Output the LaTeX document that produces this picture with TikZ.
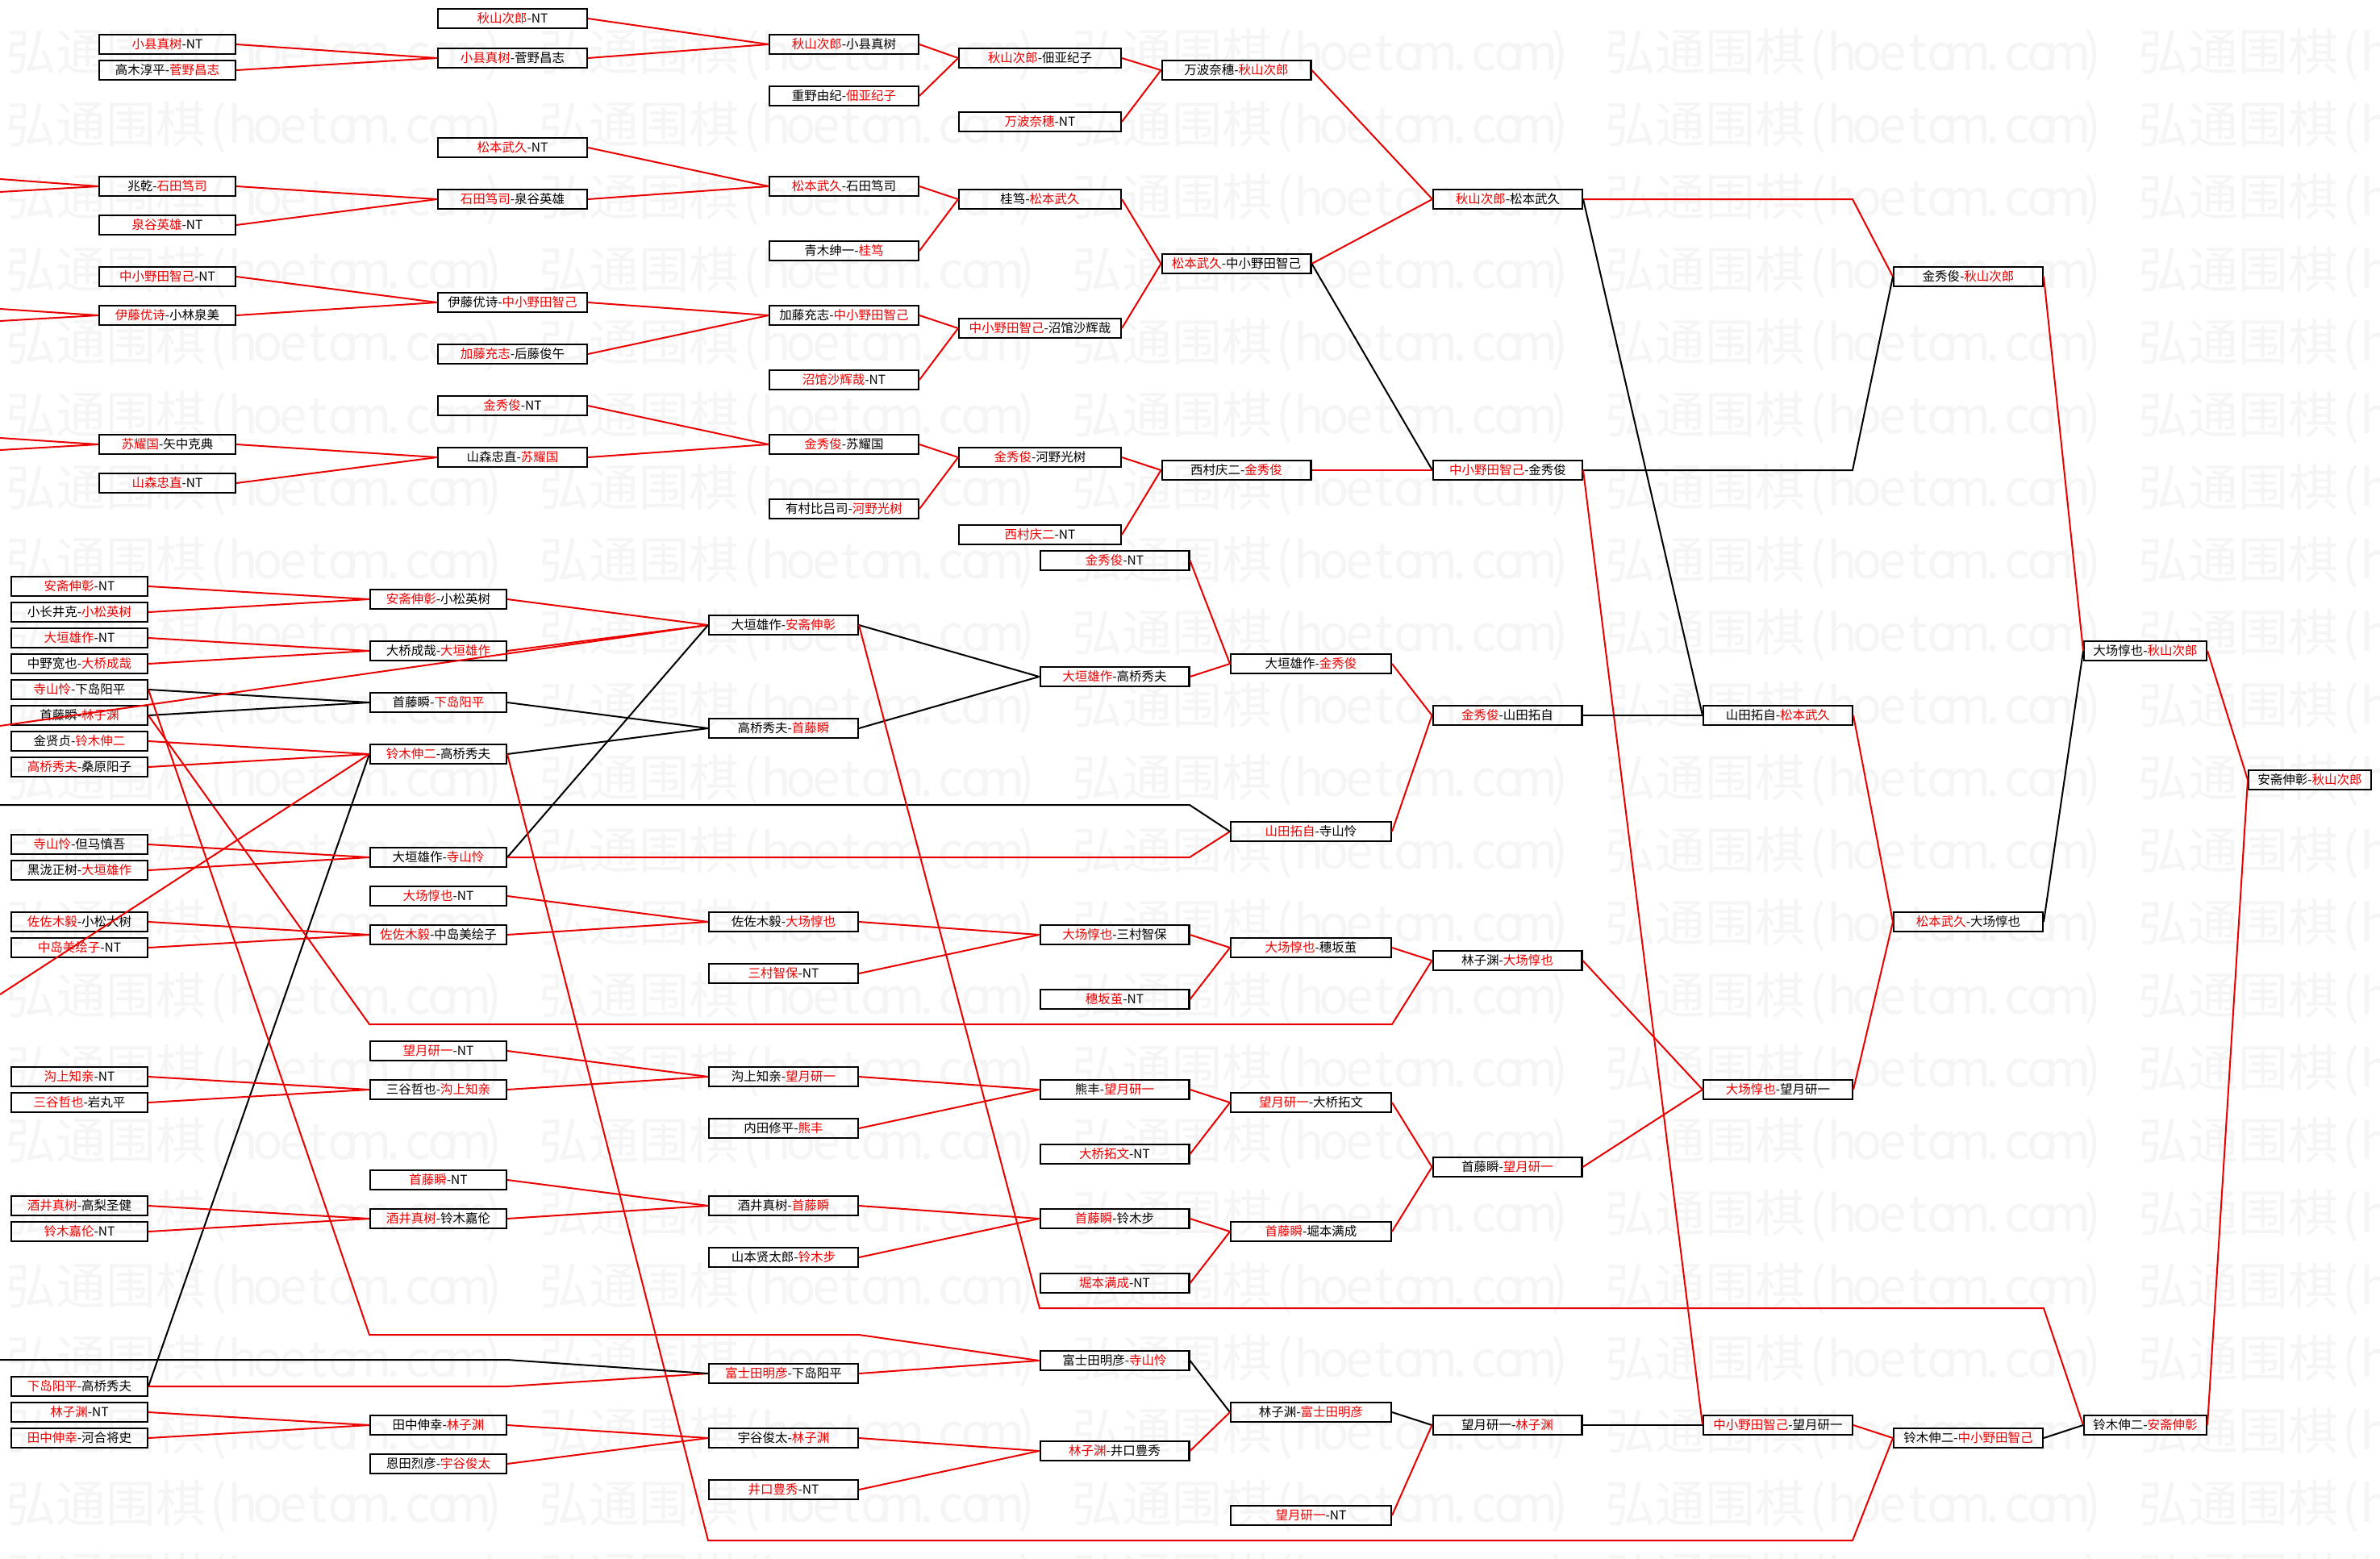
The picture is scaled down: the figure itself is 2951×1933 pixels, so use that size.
\documentclass[tikz,border=0pt]{standalone}
\usepackage{fontspec}
\newfontfamily\cjk{Noto Sans CJK SC}
\definecolor{wred}{RGB}{235,0,0}
\newcommand\R[1]{\textcolor{wred}{#1}}
\newcommand\wl[1]{\makebox[0.5em][c]{#1}}
\newcommand\wmark{弘通围棋\wl{(}\wl{h}\wl{o}\wl{e}\wl{t}\wl{o}\wl{m}\wl{.}\wl{c}\wl{o}\wl{m}\wl{)}}
\tikzset{
  bx/.style={draw=black, line width=2.4pt, minimum height=24pt, inner sep=0pt, font=\cjk\fontsize{15.5}{17}\selectfont, text=black},
  wA/.style={bx, minimum width=168.6pt},
  wB/.style={bx, minimum width=184.6pt},
  wD/.style={bx, minimum width=200.6pt},
  wL5/.style={bx, minimum width=198.6pt},
  wS/.style={bx, minimum width=151.6pt},
  rl/.style={draw=wred, line width=2pt},
  bl/.style={draw=black, line width=2pt},
  wm/.style={text=black!4, font=\cjk\fontsize{62}{70}\selectfont, inner sep=0pt, anchor=west}
}
\begin{document}
\begin{tikzpicture}[x=1pt,y=-1pt]
\useasboundingbox (0,0) rectangle (2951,1933);
\fill[white] (0,0) rectangle (2951,1933);
% watermark
\foreach \r in {0,...,21} {\foreach \c in {0,...,4} {\node[wm] at ({7+661*\c},{68+90*\r}) {\wmark};}}
% ===== upper half =====
\node[wA] (a1) at (207.5,55) {\R{小县真树}-NT};
\node[wA] (a2) at (207.5,87) {高木淳平-\R{菅野昌志}};
\node[wA] (a3) at (207.5,231) {兆乾-\R{石田笃司}};
\node[wA] (a4) at (207.5,279) {\R{泉谷英雄}-NT};
\node[wA] (a5) at (207.5,343) {\R{中小野田智己}-NT};
\node[wA] (a6) at (207.5,391) {\R{伊藤优诗}-小林泉美};
\node[wA] (a7) at (207.5,551) {\R{苏耀国}-矢中克典};
\node[wA] (a8) at (207.5,599) {\R{山森忠直}-NT};
\node[wB] (b1) at (635.5,23) {\R{秋山次郎}-NT};
\node[wB] (b2) at (635.5,72) {\R{小县真树}-菅野昌志};
\node[wB] (b3) at (635.5,183) {\R{松本武久}-NT};
\node[wB] (b4) at (635.5,247) {\R{石田笃司}-泉谷英雄};
\node[wB] (b5) at (635.5,375) {伊藤优诗-\R{中小野田智己}};
\node[wB] (b6) at (635.5,439) {\R{加藤充志}-后藤俊午};
\node[wB] (b7) at (635.5,503) {\R{金秀俊}-NT};
\node[wB] (b8) at (635.5,567) {山森忠直-\R{苏耀国}};
\node[wB] (c1) at (1046.5,55) {\R{秋山次郎}-小县真树};
\node[wB] (c2) at (1046.5,119) {重野由纪-\R{佃亚纪子}};
\node[wB] (c3) at (1046.5,231) {\R{松本武久}-石田笃司};
\node[wB] (c4) at (1046.5,311) {青木绅一-\R{桂笃}};
\node[wB] (c5) at (1046.5,391) {加藤充志-\R{中小野田智己}};
\node[wB] (c6) at (1046.5,471) {\R{沼馆沙辉哉}-NT};
\node[wB] (c7) at (1046.5,551) {\R{金秀俊}-苏耀国};
\node[wB] (c8) at (1046.5,631) {有村比吕司-\R{河野光树}};
\node[wD] (d1) at (1289.5,72) {\R{秋山次郎}-佃亚纪子};
\node[wD] (d2) at (1289.5,151) {\R{万波奈穗}-NT};
\node[wD] (d3) at (1289.5,247) {桂笃-\R{松本武久}};
\node[wD] (d4) at (1289.5,407) {\R{中小野田智己}-沼馆沙辉哉};
\node[wD] (d5) at (1289.5,567) {\R{金秀俊}-河野光树};
\node[wD] (d6) at (1289.5,663) {\R{西村庆二}-NT};
\node[wB] (e1) at (1533,87) {万波奈穗-\R{秋山次郎}};
\node[wB] (e2) at (1533,327) {\R{松本武久}-中小野田智己};
\node[wB] (e3) at (1533,583) {西村庆二-\R{金秀俊}};
\node[wB] (f1) at (1869.5,247) {\R{秋山次郎}-松本武久};
\node[wB] (f2) at (1869.5,583) {\R{中小野田智己}-金秀俊};
\node[wB] (g1) at (2440.5,343) {金秀俊-\R{秋山次郎}};
\node[wB] (g2) at (2440.5,1143) {\R{松本武久}-大场惇也};
\node[wB] (g3) at (2440.5,1783) {铃木伸二-\R{中小野田智己}};
% ===== lower half =====
\node[wA] (p1) at (98.5,727) {\R{安斋伸彰}-NT};
\node[wA] (p2) at (98.5,759) {小长井克-\R{小松英树}};
\node[wA] (p3) at (98.5,791) {\R{大垣雄作}-NT};
\node[wA] (p4) at (98.5,823) {中野宽也-\R{大桥成哉}};
\node[wA] (p5) at (98.5,855) {\R{寺山怜}-下岛阳平};
\node[wA] (p6) at (98.5,887) {首藤瞬-\R{林子渊}};
\node[wA] (p7) at (98.5,919) {金贤贞-\R{铃木伸二}};
\node[wA] (p8) at (98.5,951) {\R{高桥秀夫}-桑原阳子};
\node[wA] (p9) at (98.5,1047) {\R{寺山怜}-但马慎吾};
\node[wA] (p10) at (98.5,1079) {黑泷正树-\R{大垣雄作}};
\node[wA] (p11) at (98.5,1143) {\R{佐佐木毅}-小松大树};
\node[wA] (p12) at (98.5,1175) {\R{中岛美绘子}-NT};
\node[wA] (p13) at (98.5,1335) {\R{沟上知亲}-NT};
\node[wA] (p14) at (98.5,1367) {\R{三谷哲也}-岩丸平};
\node[wA] (p15) at (98.5,1495) {\R{酒井真树}-高梨圣健};
\node[wA] (p16) at (98.5,1527) {\R{铃木嘉伦}-NT};
\node[wA] (p17) at (98.5,1719) {\R{下岛阳平}-高桥秀夫};
\node[wA] (p18) at (98.5,1751) {\R{林子渊}-NT};
\node[wA] (p19) at (98.5,1783) {\R{田中伸幸}-河合将史};
\node[wA] (q1) at (543.5,743) {\R{安斋伸彰}-小松英树};
\node[wA] (q2) at (543.5,807) {大桥成哉-\R{大垣雄作}};
\node[wA] (q3) at (543.5,871) {首藤瞬-\R{下岛阳平}};
\node[wA] (q4) at (543.5,935) {\R{铃木伸二}-高桥秀夫};
\node[wA] (q5) at (543.5,1063) {大垣雄作-\R{寺山怜}};
\node[wA] (q6) at (543.5,1111) {\R{大场惇也}-NT};
\node[wA] (q7) at (543.5,1159) {\R{佐佐木毅}-中岛美绘子};
\node[wA] (q8) at (543.5,1303) {\R{望月研一}-NT};
\node[wA] (q9) at (543.5,1351) {三谷哲也-\R{沟上知亲}};
\node[wA] (q10) at (543.5,1463) {\R{首藤瞬}-NT};
\node[wA] (q11) at (543.5,1511) {\R{酒井真树}-铃木嘉伦};
\node[wA] (q12) at (543.5,1767) {田中伸幸-\R{林子渊}};
\node[wA] (q13) at (543.5,1815) {恩田烈彦-\R{宇谷俊太}};
\node[wB] (r1) at (971.5,775) {大垣雄作-\R{安斋伸彰}};
\node[wB] (r2) at (971.5,903) {高桥秀夫-\R{首藤瞬}};
\node[wB] (r3) at (971.5,1143) {佐佐木毅-\R{大场惇也}};
\node[wB] (r4) at (971.5,1207) {\R{三村智保}-NT};
\node[wB] (r5) at (971.5,1335) {沟上知亲-\R{望月研一}};
\node[wB] (r6) at (971.5,1399) {内田修平-\R{熊丰}};
\node[wB] (r7) at (971.5,1495) {酒井真树-\R{首藤瞬}};
\node[wB] (r8) at (971.5,1559) {山本贤太郎-\R{铃木步}};
\node[wB] (r9) at (971.5,1703) {\R{富士田明彦}-下岛阳平};
\node[wB] (r10) at (971.5,1783) {宇谷俊太-\R{林子渊}};
\node[wB] (r11) at (971.5,1847) {\R{井口豊秀}-NT};
\node[wB] (s1) at (1382,695) {\R{金秀俊}-NT};
\node[wB] (s2) at (1382,839) {\R{大垣雄作}-高桥秀夫};
\node[wB] (s3) at (1382,1159) {\R{大场惇也}-三村智保};
\node[wB] (s4) at (1382,1239) {\R{穗坂茧}-NT};
\node[wB] (s5) at (1382,1351) {熊丰-\R{望月研一}};
\node[wB] (s6) at (1382,1431) {\R{大桥拓文}-NT};
\node[wB] (s7) at (1382,1511) {\R{首藤瞬}-铃木步};
\node[wB] (s8) at (1382,1591) {\R{堀本满成}-NT};
\node[wB] (s9) at (1382,1687) {富士田明彦-\R{寺山怜}};
\node[wB] (s10) at (1382,1799) {\R{林子渊}-井口豊秀};
\node[wL5] (t1) at (1625.5,823) {大垣雄作-\R{金秀俊}};
\node[wL5] (t2) at (1625.5,1031) {\R{山田拓自}-寺山怜};
\node[wL5] (t3) at (1625.5,1175) {\R{大场惇也}-穗坂茧};
\node[wL5] (t4) at (1625.5,1367) {\R{望月研一}-大桥拓文};
\node[wL5] (t5) at (1625.5,1527) {\R{首藤瞬}-堀本满成};
\node[wL5] (t6) at (1625.5,1751) {林子渊-\R{富士田明彦}};
\node[wL5] (t7) at (1625.5,1879) {\R{望月研一}-NT};
\node[wB] (u1) at (1869,887) {\R{金秀俊}-山田拓自};
\node[wB] (u2) at (1869,1191) {林子渊-\R{大场惇也}};
\node[wB] (u3) at (1869,1447) {首藤瞬-\R{望月研一}};
\node[wB] (u4) at (1869,1767) {望月研一-\R{林子渊}};
\node[wB] (v1) at (2204.5,887) {山田拓自-\R{松本武久}};
\node[wB] (v2) at (2204.5,1351) {\R{大场惇也}-望月研一};
\node[wB] (v3) at (2204.5,1767) {\R{中小野田智己}-望月研一};
\node[wS] (w1) at (2660,807) {大场惇也-\R{秋山次郎}};
\node[wS] (w2) at (2660,1767) {铃木伸二-\R{安斋伸彰}};
\node[wS] (z1) at (2864,967) {安斋伸彰-\R{秋山次郎}};
% free ends at the left edge
\coordinate (e01) at (0,222); \coordinate (e02) at (0,238);
\coordinate (e03) at (0,383); \coordinate (e04) at (0,398);
\coordinate (e05) at (0,543); \coordinate (e06) at (0,558);
\coordinate (e07) at (0,900); \coordinate (e08) at (0,998);
\coordinate (e09) at (0,1233); \coordinate (e10) at (0,1686);
% ===== connectors, upper =====
\draw[rl] (a1.east) -- (b2.west); \draw[rl] (a2.east) -- (b2.west);
\draw[rl] (b1.east) -- (c1.west); \draw[rl] (b2.east) -- (c1.west);
\draw[rl] (c1.east) -- (d1.west); \draw[rl] (c2.east) -- (d1.west);
\draw[rl] (d1.east) -- (e1.west); \draw[rl] (d2.east) -- (e1.west);
\draw[rl] (e01) -- (a3.west); \draw[rl] (e02) -- (a3.west);
\draw[rl] (a3.east) -- (b4.west); \draw[rl] (a4.east) -- (b4.west);
\draw[rl] (b3.east) -- (c3.west); \draw[rl] (b4.east) -- (c3.west);
\draw[rl] (c3.east) -- (d3.west); \draw[rl] (c4.east) -- (d3.west);
\draw[rl] (d3.east) -- (e2.west);
\draw[rl] (e03) -- (a6.west); \draw[rl] (e04) -- (a6.west);
\draw[rl] (a5.east) -- (b5.west); \draw[rl] (a6.east) -- (b5.west);
\draw[rl] (b5.east) -- (c5.west); \draw[rl] (b6.east) -- (c5.west);
\draw[rl] (c5.east) -- (d4.west); \draw[rl] (c6.east) -- (d4.west);
\draw[rl] (d4.east) -- (e2.west);
\draw[rl] (e05) -- (a7.west); \draw[rl] (e06) -- (a7.west);
\draw[rl] (a7.east) -- (b8.west); \draw[rl] (a8.east) -- (b8.west);
\draw[rl] (b7.east) -- (c7.west); \draw[rl] (b8.east) -- (c7.west);
\draw[rl] (c7.east) -- (d5.west); \draw[rl] (c8.east) -- (d5.west);
\draw[rl] (d5.east) -- (e3.west); \draw[rl] (d6.east) -- (e3.west);
\draw[rl] (e1.east) -- (f1.west); \draw[rl] (e2.east) -- (f1.west);
\draw[bl] (e2.east) -- (f2.west); \draw[rl] (e3.east) -- (f2.west);
\draw[rl] (f1.east) -- (2297,247) -- (g1.west);
\draw[bl] (f2.east) -- (2297,583) -- (g1.west);
\draw[bl] (f1.east) -- (v1.west);
\draw[rl] (f2.east) -- (v3.west);
\draw[rl] (g1.east) -- (w1.west);
% ===== connectors, lower =====
\draw[rl] (p1.east) -- (q1.west); \draw[rl] (p2.east) -- (q1.west);
\draw[rl] (p3.east) -- (q2.west); \draw[rl] (p4.east) -- (q2.west);
\draw[bl] (p5.east) -- (q3.west); \draw[bl] (p6.east) -- (q3.west);
\draw[rl] (p7.east) -- (q4.west); \draw[rl] (p8.east) -- (q4.west);
\draw[rl] (e07) -- (r1.west);
\draw[rl] (q1.east) -- (r1.west); \draw[rl] (q2.east) -- (r1.west);
\draw[bl] (q3.east) -- (r2.west); \draw[bl] (q4.east) -- (r2.west);
\draw[bl] (p17.east) -- (q4.west);
\draw[rl] (p5.east) -- (458,1655) -- (1065,1655) -- (s9.west);
\draw[rl] (p6.east) -- (458,1270) -- (1726,1270) -- (u2.west);
\draw[rl] (p9.east) -- (q5.west); \draw[rl] (p10.east) -- (q5.west);
\draw[bl] (q5.east) -- (r1.west);
\draw[rl] (q5.east) -- (1475,1063) -- (t2.west);
\draw[bl] (e08) -- (1475,998) -- (t2.west);
\draw[rl] (q6.east) -- (r3.west); \draw[rl] (q7.east) -- (r3.west);
\draw[rl] (p11.east) -- (q7.west); \draw[rl] (p12.east) -- (q7.west);
\draw[rl] (e09) -- (q4.west);
\draw[bl] (r1.east) -- (s2.west); \draw[bl] (r2.east) -- (s2.west);
\draw[rl] (r1.east) -- (1289,1622) -- (2534,1622) -- (w2.west);
\draw[rl] (q4.east) -- (878,1910) -- (2297,1910) -- (g3.west);
\draw[rl] (s1.east) -- (t1.west); \draw[rl] (s2.east) -- (t1.west);
\draw[rl] (t1.east) -- (u1.west); \draw[rl] (t2.east) -- (u1.west);
\draw[bl] (u1.east) -- (v1.west);
\draw[rl] (v1.east) -- (g2.west);
\draw[rl] (s3.east) -- (t3.west); \draw[rl] (s4.east) -- (t3.west);
\draw[rl] (r3.east) -- (s3.west); \draw[rl] (r4.east) -- (s3.west);
\draw[rl] (t3.east) -- (u2.west); \draw[rl] (u2.east) -- (v2.west);
\draw[rl] (q8.east) -- (r5.west); \draw[rl] (q9.east) -- (r5.west);
\draw[rl] (p13.east) -- (q9.west); \draw[rl] (p14.east) -- (q9.west);
\draw[rl] (r5.east) -- (s5.west); \draw[rl] (r6.east) -- (s5.west);
\draw[rl] (s5.east) -- (t4.west); \draw[rl] (s6.east) -- (t4.west);
\draw[rl] (t4.east) -- (u3.west); \draw[rl] (t5.east) -- (u3.west);
\draw[rl] (u3.east) -- (v2.west);
\draw[rl] (p15.east) -- (q11.west); \draw[rl] (p16.east) -- (q11.west);
\draw[rl] (q10.east) -- (r7.west); \draw[rl] (q11.east) -- (r7.west);
\draw[rl] (r7.east) -- (s7.west); \draw[rl] (r8.east) -- (s7.west);
\draw[rl] (s7.east) -- (t5.west); \draw[rl] (s8.east) -- (t5.west);
\draw[rl] (p17.east) -- (629,1719) -- (r9.west);
\draw[bl] (e10) -- (629,1686) -- (r9.west);
\draw[rl] (r9.east) -- (s9.west);
\draw[bl] (s9.east) -- (t6.west); \draw[rl] (s10.east) -- (t6.west);
\draw[bl] (t6.east) -- (u4.west); \draw[rl] (t7.east) -- (u4.west);
\draw[bl] (u4.east) -- (v3.west);
\draw[rl] (p18.east) -- (q12.west); \draw[rl] (p19.east) -- (q12.west);
\draw[rl] (q12.east) -- (r10.west); \draw[rl] (q13.east) -- (r10.west);
\draw[rl] (r10.east) -- (s10.west); \draw[rl] (r11.east) -- (s10.west);
\draw[rl] (v2.east) -- (g2.west); \draw[bl] (g2.east) -- (w1.west);
\draw[rl] (v3.east) -- (g3.west); \draw[bl] (g3.east) -- (w2.west);
\draw[rl] (w1.east) -- (z1.west); \draw[rl] (w2.east) -- (z1.west);
\end{tikzpicture}
\end{document}
